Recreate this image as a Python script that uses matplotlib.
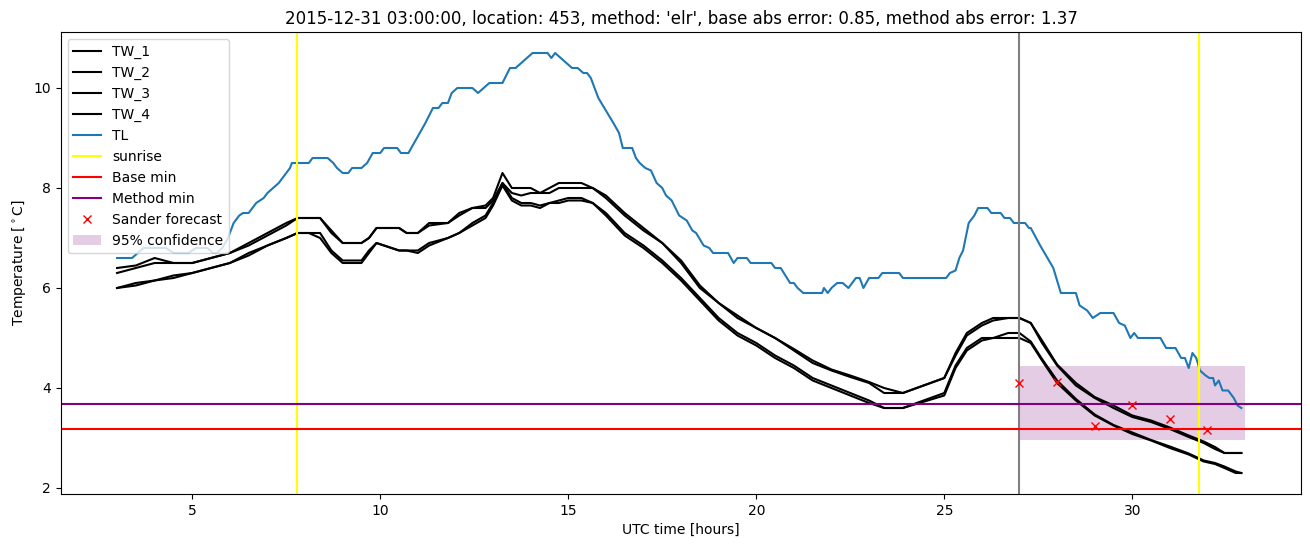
import numpy as np
import matplotlib
matplotlib.use('Agg')
import matplotlib.pyplot as plt


# TL (air temperature)
tl_hours = [3.0, 3.4, 3.7, 4.3, 4.5, 4.9, 5.1, 5.4, 5.55, 5.65, 5.8, 5.95, 6.1, 6.25, 6.35, 6.5, 6.6, 6.7,
            6.9, 7.0, 7.15, 7.3, 7.4, 7.5, 7.6, 7.65, 8.1, 8.2, 8.6, 8.75, 8.85, 9.0, 9.15, 9.25, 9.5, 9.65,
            9.8, 10.0, 10.1, 10.45, 10.55, 10.75, 10.9, 11.05, 11.2, 11.4, 11.55, 11.65, 11.8, 11.9, 12.05,
            12.45, 12.6, 12.75, 12.9, 13.25, 13.45, 13.6, 13.75, 13.9, 14.05, 14.45, 14.55, 14.65, 14.8,
            14.95, 15.1, 15.25, 15.4, 15.5, 15.6, 15.8, 16.0, 16.2, 16.35, 16.45, 16.7, 16.8, 16.9, 17.05,
            17.2, 17.35, 17.5, 17.6, 17.75, 17.95, 18.15, 18.3, 18.4, 18.6, 18.75, 18.85, 19.25, 19.4, 19.5,
            19.75, 19.85, 20.4, 20.5, 20.65, 20.9, 21.0, 21.1, 21.25, 21.75, 21.8, 21.9, 22.0, 22.15, 22.3,
            22.45, 22.65, 22.75, 22.85, 23.0, 23.25, 23.35, 23.8, 23.9, 25.05, 25.15, 25.3, 25.4, 25.5, 25.65,
            25.8, 25.9, 26.15, 26.25, 26.5, 26.6, 26.75, 26.85, 27.15, 27.25, 27.3, 27.55, 27.9, 28.1, 28.5,
            28.6, 28.8, 28.95, 29.15, 29.5, 29.65, 29.8, 29.95, 30.05, 30.15, 30.75, 30.9, 31.15, 31.3, 31.4,
            31.5, 31.6, 31.7, 31.8, 31.95, 32.05, 32.15, 32.2, 32.3, 32.4, 32.55, 32.7, 32.8, 32.9]
tl_values = [6.6, 6.6, 6.8, 6.8, 6.7, 6.7, 6.8, 6.8, 6.7, 6.7, 6.8, 7.0, 7.3, 7.45, 7.5, 7.5, 7.6, 7.7,
             7.8, 7.9, 8.0, 8.1, 8.2, 8.3, 8.4, 8.5, 8.5, 8.6, 8.6, 8.5, 8.4, 8.3, 8.3, 8.4, 8.4, 8.5,
             8.7, 8.7, 8.8, 8.8, 8.7, 8.7, 8.9, 9.1, 9.3, 9.6, 9.6, 9.7, 9.7, 9.9, 10.0,
             10.0, 9.9, 10.0, 10.1, 10.1, 10.4, 10.4, 10.5, 10.6, 10.7, 10.7, 10.6, 10.7, 10.6,
             10.5, 10.4, 10.4, 10.3, 10.3, 10.2, 9.8, 9.55, 9.3, 9.1, 8.8, 8.8, 8.6, 8.5, 8.4,
             8.35, 8.1, 8.0, 7.85, 7.75, 7.45, 7.35, 7.15, 7.1, 6.85, 6.8, 6.7, 6.7, 6.5, 6.6,
             6.6, 6.5, 6.5, 6.4, 6.4, 6.1, 6.1, 6.0, 5.9, 5.9, 6.0, 5.9, 6.0, 6.1, 6.1,
             6.0, 6.2, 6.2, 6.0, 6.2, 6.2, 6.3, 6.3, 6.2, 6.2, 6.3, 6.35, 6.6, 6.75, 7.3,
             7.45, 7.6, 7.6, 7.5, 7.5, 7.4, 7.4, 7.3, 7.3, 7.2, 7.2, 6.85, 6.4, 5.9, 5.9,
             5.65, 5.55, 5.4, 5.5, 5.5, 5.3, 5.25, 5.0, 5.1, 5.0, 5.0, 4.8, 4.8, 4.6, 4.6,
             4.4, 4.7, 4.6, 4.35, 4.25, 4.2, 4.2, 4.05, 4.15, 3.95, 3.95, 3.8, 3.65, 3.6]

# TW_1..TW_4 (water temperatures) share one time axis
tw_hours = [3.0, 3.5, 4.0, 4.5, 5.0, 5.5, 6.0, 6.5, 7.0, 7.5, 7.8, 8.1, 8.4, 8.7, 9.0, 9.5, 9.7, 9.9,
            10.5, 10.7, 11.0, 11.3, 11.8, 12.1, 12.45, 12.8, 13.0, 13.25, 13.5, 13.75, 14.0, 14.25, 14.5,
            14.75, 15.0, 15.35, 15.65, 16.0, 16.5, 17.0, 17.5, 18.0, 18.5, 19.0, 19.5, 20.0, 20.5, 21.0,
            21.5, 22.0, 22.5, 23.0, 23.4, 23.9, 25.0, 25.3, 25.6, 26.0, 26.3, 26.7, 27.0, 27.3, 27.6,
            28.0, 28.5, 29.0, 29.5, 30.0, 30.5, 31.0, 31.5, 31.9, 32.2, 32.45, 32.75, 32.9]
tw_1 = [6.4, 6.45, 6.6, 6.5, 6.5, 6.6, 6.7, 6.9, 7.1, 7.3, 7.4, 7.4, 7.4, 7.1, 6.9, 6.9, 7.0, 7.2,
        7.2, 7.1, 7.1, 7.3, 7.3, 7.5, 7.6, 7.65, 7.8, 8.3, 8.0, 8.0, 8.0, 7.9, 8.0,
        8.1, 8.1, 8.1, 8.0, 7.8, 7.45, 7.15, 6.9, 6.55, 6.05, 5.7, 5.45, 5.2, 5.0, 4.78,
        4.55, 4.37, 4.25, 4.12, 4.0, 3.9, 4.2, 4.7, 5.1, 5.3, 5.4, 5.4, 5.4, 5.3, 4.95,
        4.47, 4.1, 3.82, 3.65, 3.45, 3.35, 3.21, 3.05, 2.93, 2.82, 2.7, 2.7, 2.7]
tw_2 = [6.3, 6.4, 6.5, 6.5, 6.5, 6.6, 6.7, 6.85, 7.05, 7.25, 7.4, 7.4, 7.4, 7.15, 6.9, 6.9, 7.0, 7.2,
        7.2, 7.1, 7.1, 7.25, 7.3, 7.45, 7.6, 7.6, 7.75, 8.1, 7.9, 7.85, 7.9, 7.9, 7.9,
        8.0, 8.0, 8.0, 8.0, 7.85, 7.5, 7.2, 6.9, 6.5, 6.0, 5.7, 5.4, 5.2, 5.0, 4.75,
        4.5, 4.35, 4.22, 4.1, 3.9, 3.9, 4.2, 4.65, 5.05, 5.25, 5.35, 5.4, 5.4, 5.3, 4.9,
        4.45, 4.05, 3.8, 3.6, 3.42, 3.32, 3.18, 3.02, 2.9, 2.78, 2.7, 2.7, 2.7]
tw_3 = [6.0, 6.1, 6.15, 6.25, 6.3, 6.4, 6.5, 6.7, 6.85, 7.0, 7.1, 7.1, 7.1, 6.75, 6.55, 6.55, 6.75, 6.9,
        6.75, 6.75, 6.75, 6.9, 7.0, 7.1, 7.3, 7.45, 7.7, 8.1, 7.8, 7.7, 7.7, 7.65, 7.7,
        7.75, 7.8, 7.8, 7.7, 7.5, 7.1, 6.85, 6.55, 6.2, 5.8, 5.4, 5.1, 4.9, 4.65, 4.45,
        4.2, 4.05, 3.9, 3.75, 3.6, 3.6, 3.9, 4.45, 4.8, 5.0, 5.0, 5.1, 5.1, 4.93, 4.58,
        4.15, 3.78, 3.47, 3.26, 3.11, 2.96, 2.83, 2.69, 2.55, 2.5, 2.43, 2.33, 2.3]
tw_4 = [6.0, 6.05, 6.15, 6.2, 6.3, 6.4, 6.5, 6.65, 6.85, 7.0, 7.1, 7.1, 7.0, 6.7, 6.5, 6.5, 6.7, 6.9,
        6.75, 6.75, 6.7, 6.85, 7.0, 7.1, 7.25, 7.4, 7.65, 8.05, 7.75, 7.65, 7.65, 7.6, 7.7,
        7.7, 7.75, 7.75, 7.7, 7.45, 7.05, 6.8, 6.5, 6.15, 5.75, 5.35, 5.05, 4.85, 4.6, 4.4,
        4.15, 4.0, 3.85, 3.7, 3.6, 3.6, 3.85, 4.4, 4.75, 4.95, 5.0, 5.0, 5.0, 4.9, 4.55,
        4.1, 3.75, 3.45, 3.25, 3.08, 2.95, 2.8, 2.67, 2.53, 2.48, 2.4, 2.3, 2.3]

sunrise_hours = [7.78, 31.78]
forecast_start = 27.0
base_min = 3.17
method_min = 3.68

forecast_hours = [27, 28, 29, 30, 31, 32]
forecast_values = [4.1, 4.12, 3.24, 3.66, 3.38, 3.16]
conf_hours = [27.0, 33.0]
conf_low = 2.95
conf_high = 4.44

title = "2015-12-31 03:00:00, location: 453, method: 'elr', base abs error: 0.85, method abs error: 1.37"


fig, ax = plt.subplots(figsize=(13.1, 5.47), dpi=100)
fig.subplots_adjust(left=0.0463, right=0.9935, top=0.9415, bottom=0.0969)

# water temperature lines
for name, vals in zip(['TW_1', 'TW_2', 'TW_3', 'TW_4'], [tw_1, tw_2, tw_3, tw_4]):
    ax.plot(tw_hours, vals, color='black', label=name)

ax.plot(tl_hours, tl_values, color='tab:blue', label='TL')

ax.axvline(sunrise_hours[0], color='yellow', label='sunrise')
ax.axvline(sunrise_hours[1], color='yellow')
ax.axvline(forecast_start, color='grey')

ax.axhline(base_min, color='red', label='Base min')
ax.axhline(method_min, color='purple', label='Method min')

ax.plot(forecast_hours, forecast_values, 'x', color='red', label='Sander forecast')
ax.fill_between(conf_hours, conf_low, conf_high, color='purple', alpha=0.2, linewidth=0,
                label='95% confidence')

ax.set_xlim(1.5, 34.5)
ax.set_ylim(1.88, 11.12)
ax.set_xlabel('UTC time [hours]')
ax.set_ylabel(r'Temperature [$^\circ$C]')
ax.set_title(title)
ax.legend(loc='upper left')

fig.savefig('out.png', dpi=100)
